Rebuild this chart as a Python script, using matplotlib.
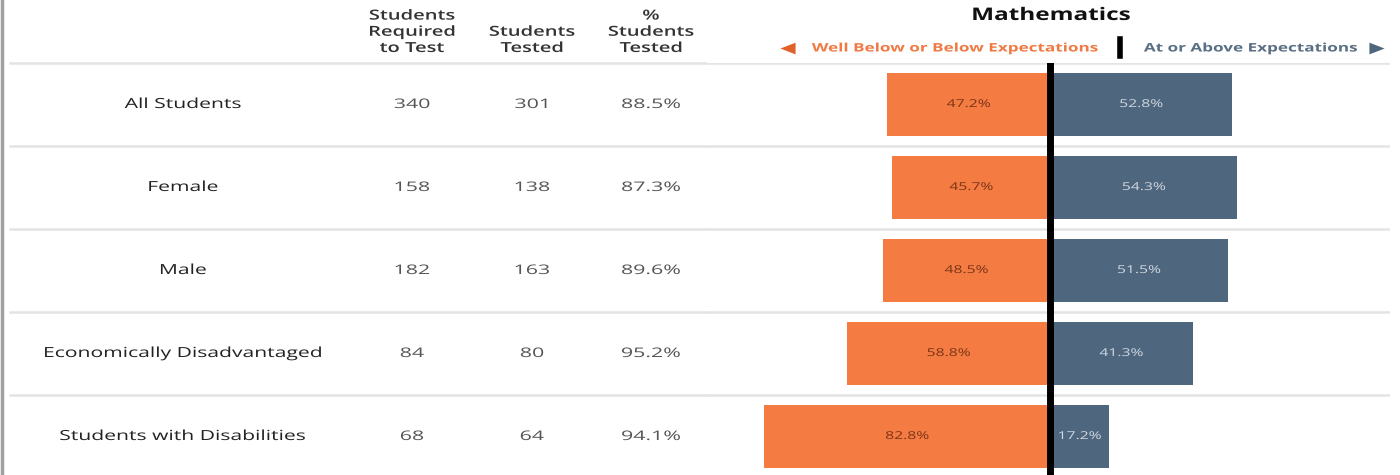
import matplotlib.pyplot as plt
from matplotlib.patheffects import AbstractPathEffect
from matplotlib.transforms import Affine2D

plt.rcParams['font.family'] = ['Open Sans', 'DejaVu Sans']

# data
groups = ['All Students', 'Female', 'Male', 'Economically Disadvantaged', 'Students with Disabilities']
required = [340, 158, 182, 84, 68]
tested = [301, 138, 163, 80, 64]
pct_tested = ['88.5%', '87.3%', '89.6%', '95.2%', '94.1%']
below = [47.2, 45.7, 48.5, 58.8, 82.8]
above = [52.8, 54.3, 51.5, 41.3, 17.2]
headers = ['Students\nRequired\nto Test', 'Students\nTested', '%\nStudents\nTested']

orange = '#F47B42'
slate = '#4E667E'
W, H = 1400, 475


# widen glyphs around each line's centre (the source font is very wide / tracked)
class Stretch(AbstractPathEffect):
    def __init__(self, sx):
        super().__init__()
        self.sx = sx

    def draw_path(self, renderer, gc, tpath, affine, rgbFace=None):
        ext = tpath.get_extents()
        cx = (ext.x0 + ext.x1) / 2
        t = Affine2D().translate(-cx, 0).scale(self.sx, 1).translate(cx, 0) + affine
        renderer.draw_path(gc, tpath, t, rgbFace)


def wide(s):
    return [Stretch(s)]


fig = plt.figure(figsize=(W / 100, H / 100), dpi=100)
fig.patch.set_facecolor('white')

top_px = 63
row_px = 83
nrows = (H - top_px) / row_px
ylim = (-0.5 + nrows, -0.5)

# left border
fig.add_artist(plt.Line2D([2 / W, 2 / W], [0, 1], color='#a0a0a0', lw=2.5))

# table part
tab = fig.add_axes([0, 0, 705 / W, (H - top_px) / H])
tab.set_xlim(0, 705)
tab.set_ylim(*ylim)
tab.axis('off')
col_x = [412, 532, 651]
for i, g in enumerate(groups):
    tab.text(183, i, g, ha='center', va='center', fontsize=10, color='#222222', path_effects=wide(1.52))
    for x, v in zip(col_x, [str(required[i]), str(tested[i]), pct_tested[i]]):
        tab.text(x, i, v, ha='center', va='center', fontsize=9.5, color='#555555', path_effects=wide(1.62))
for i in range(len(groups)):
    tab.plot([10, 705], [i - 0.5, i - 0.5], color='#e4e4e4', lw=1.8, clip_on=False)

for x, h in zip(col_x, headers):
    fig.text(x / W, 1 - 55 / H, h, ha='center', va='bottom', fontsize=10, fontweight='semibold',
             color='#333333', linespacing=1.2, path_effects=wide(1.45))

# bar part
ax = fig.add_axes([705 / W, 0, (1390 - 705) / W, (H - top_px) / H])
ax.set_xlim(-100, 98.5)
ax.set_ylim(*ylim)
ypos = list(range(len(groups)))
ax.barh(ypos, [-b for b in below], height=0.76, color=orange)
ax.barh(ypos, above, height=0.76, color=slate)
for i in ypos:
    ax.text(-below[i] / 2, i, f'{below[i]:.1f}%', ha='center', va='center', fontsize=7.8,
            color='#7a3517', path_effects=wide(1.45))
    ax.text(above[i] / 2, i, f'{above[i]:.1f}%', ha='center', va='center', fontsize=7.8,
            color='#d0d8e0', path_effects=wide(1.45))
    ax.axhline(i - 0.5, color='#e4e4e4', lw=1.8, zorder=0)
ax.axvline(0, color='black', lw=5, zorder=3)
ax.axis('off')

# title and legend
fig.text(1051 / W, 1 - 15 / H, 'Mathematics', ha='center', va='center', fontsize=12.5,
         fontweight='bold', color='#111111', path_effects=wide(1.4))
ly = 1 - 48 / H
fig.text(788 / W, ly, '\u25C0', ha='center', va='center', fontsize=11, color='#E0622A',
         family=['DejaVu Sans'], path_effects=wide(1.3))
fig.text(954 / W, ly, 'Well Below or Below Expectations', ha='center', va='center', fontsize=8.5,
         fontweight='bold', color='#F07A44', path_effects=wide(1.45))
fig.add_artist(plt.Line2D([1120 / W, 1120 / W], [1 - 39 / H, 1 - 56 / H], color='black', lw=4))
fig.text(1250 / W, ly, 'At or Above Expectations', ha='center', va='center', fontsize=8.5,
         fontweight='bold', color='#5A6E84', path_effects=wide(1.45))
fig.text(1377 / W, ly, '\u25B6', ha='center', va='center', fontsize=11, color='#4E667E',
         family=['DejaVu Sans'], path_effects=wide(1.3))

fig.savefig('out.png', dpi=100, facecolor='white')
